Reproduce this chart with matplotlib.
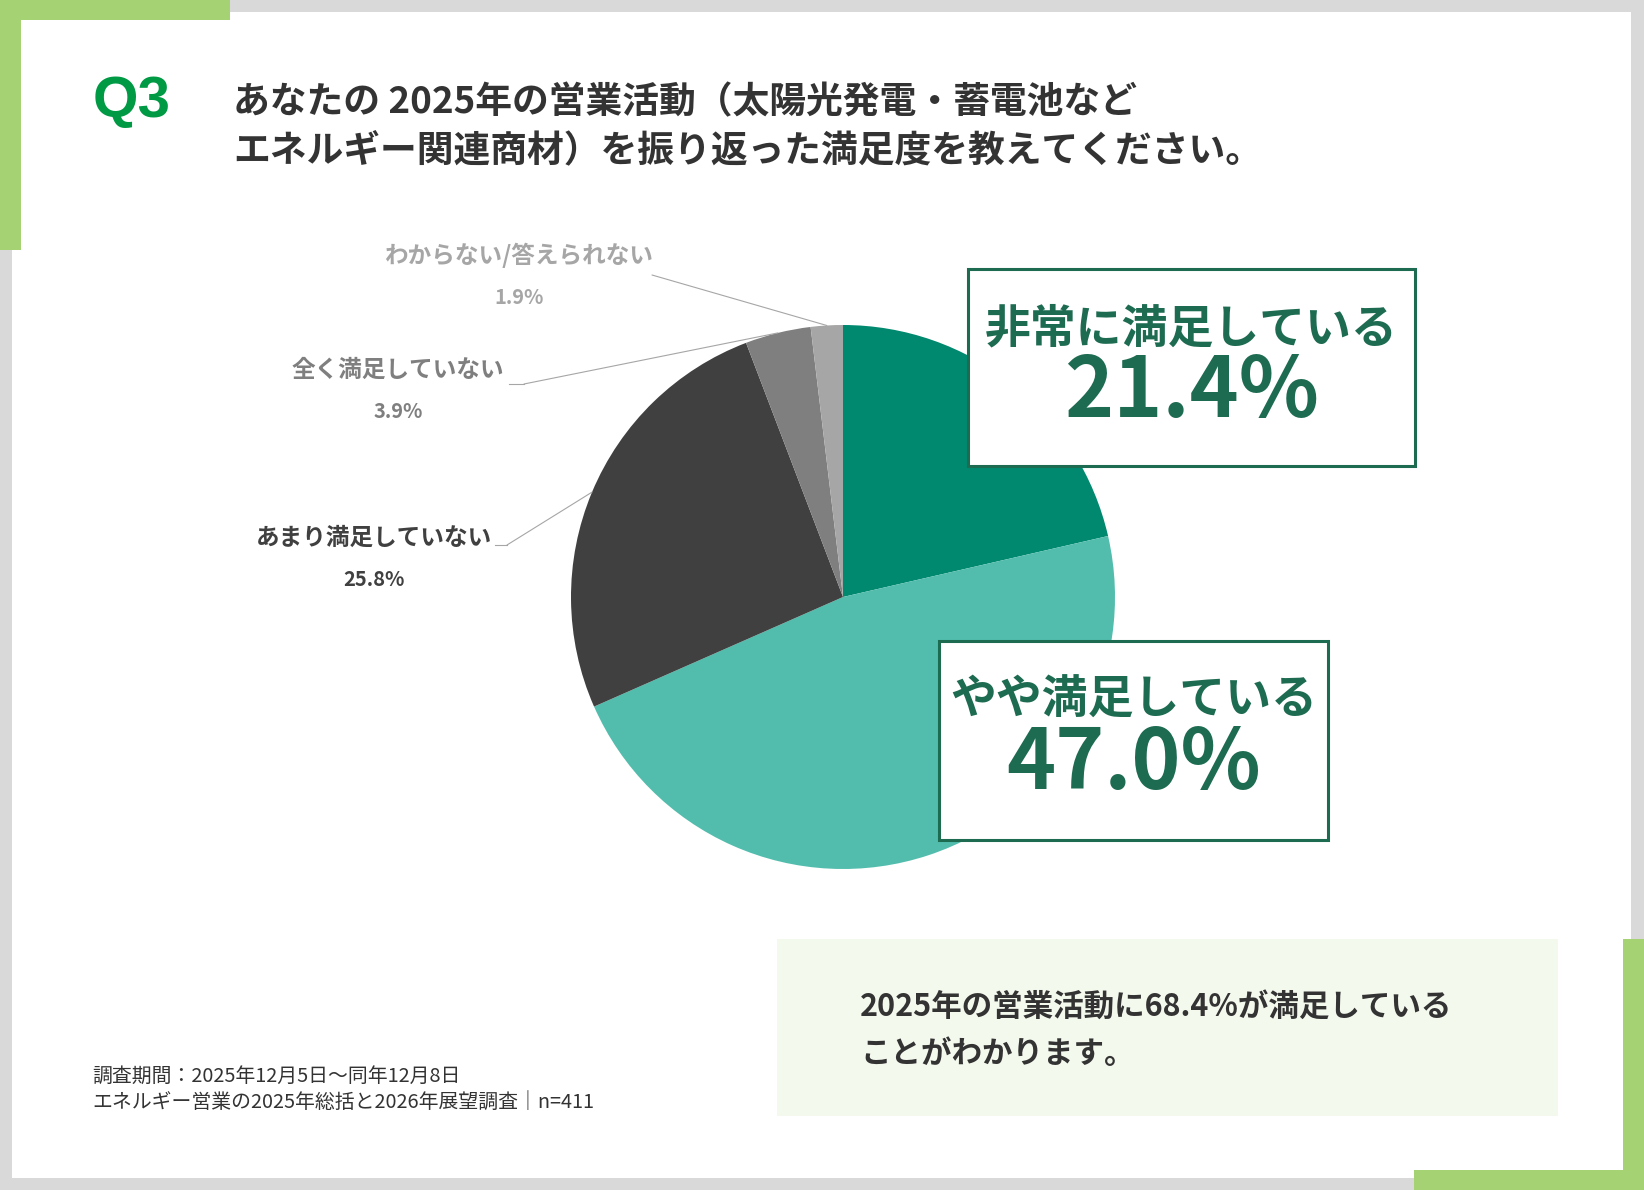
import numpy as np
import matplotlib.pyplot as plt
from matplotlib.patches import Rectangle

plt.rcParams['font.family'] = ['Noto Sans CJK JP', 'DejaVu Sans']

# data
labels = ["非常に満足している", "やや満足している", "あまり満足していない", "全く満足していない", "わからない/答えられない"]
values = [21.4, 47.0, 25.8, 3.9, 1.9]
colors = ["#00896F", "#52BDAD", "#404040", "#7F7F7F", "#A6A6A6"]
label_colors = ["#1D6B50", "#1D6B50", "#404040", "#7F7F7F", "#A6A6A6"]

title_lines = ["あなたの 2025年の営業活動（太陽光発電・蓄電池など",
               "エネルギー関連商材）を振り返った満足度を教えてください。"]
summary_lines = ["2025年の営業活動に68.4%が満足している", "ことがわかります。"]
footer_lines = ["調査期間：2025年12月5日～同年12月8日",
                "エネルギー営業の2025年総括と2026年展望調査｜n=411"]

W, H = 1644, 1190
fig = plt.figure(figsize=(W / 100, H / 100), dpi=100, facecolor="#D9D9D9")

# background layer in pixel coords (y down)
bg = fig.add_axes([0, 0, 1, 1])
bg.set_xlim(0, W)
bg.set_ylim(H, 0)
bg.axis("off")
green = "#A5D273"
bg.add_patch(Rectangle((12, 12), 1619, 1166, color="white", lw=0))
bg.add_patch(Rectangle((0, 0), 230, 20, color=green, lw=0))
bg.add_patch(Rectangle((0, 0), 21, 250, color=green, lw=0))
bg.add_patch(Rectangle((1623, 939), 21, 251, color=green, lw=0))
bg.add_patch(Rectangle((1414, 1170), 230, 20, color=green, lw=0))
bg.add_patch(Rectangle((777, 939), 781, 177, color="#F4F9EE", lw=0))

bg.text(93, 102, "Q3", fontsize=42, fontweight="bold", color="#009944",
        family="Liberation Sans", va="center", ha="left")
bg.text(233, 103, title_lines[0], fontsize=26.5, fontweight="bold", color="#333333", va="center")
bg.text(233, 152, title_lines[1], fontsize=26.5, fontweight="bold", color="#333333", va="center")

bg.text(860, 1007, summary_lines[0], fontsize=22, fontweight="bold", color="#333333", va="center")
bg.text(860, 1054, summary_lines[1], fontsize=22, fontweight="bold", color="#333333", va="center")

bg.text(92, 1076, footer_lines[0], fontsize=14.3, color="#333333", va="center")
bg.text(92, 1103, footer_lines[1], fontsize=14.3, color="#333333", va="center")

# pie
cx, cy, r = 843, 597, 272
pax = fig.add_axes([(cx - r) / W, (H - cy - r) / H, 2 * r / W, 2 * r / H])
wedges, _ = pax.pie(values, colors=colors, startangle=90, counterclock=False,
                    wedgeprops=dict(linewidth=0))
pax.set_xlim(-1, 1)
pax.set_ylim(-1, 1)
pax.axis("off")
for w in wedges:
    w.set_clip_on(False)

# overlay for callouts
ov = fig.add_axes([0, 0, 1, 1])
ov.set_xlim(0, W)
ov.set_ylim(H, 0)
ov.axis("off")
ov.patch.set_alpha(0)

boxes = [(968, 269, 447, 197), (939, 641, 389, 199)]
for i, (x, y, bw, bh) in enumerate(boxes):
    ov.add_patch(Rectangle((x, y), bw, bh, facecolor="white", edgecolor="#1D6B50", lw=2.2))
    ov.text(x + bw / 2, y + 60, labels[i], fontsize=33, fontweight="bold",
            color=label_colors[i], ha="center", va="center")
    ov.text(x + bw / 2, y + 124, f"{values[i]:.1f}%", fontsize=60, fontweight="bold",
            color=label_colors[i], ha="center", va="center")

# small outside labels with leader lines
label_pos = {4: (519, 255), 3: (398, 370), 2: (374, 538)}
line_start = {4: [(652, 275)], 3: [(509, 384), (524, 384)], 2: [(495, 545), (507, 545)]}
for i, (lx, ly) in label_pos.items():
    ov.text(lx, ly, labels[i], fontsize=17, fontweight="bold", color=label_colors[i],
            ha="center", va="center")
    ov.text(lx, ly + 42, f"{values[i]:.1f}%", fontsize=14.5, fontweight="bold",
            color=label_colors[i], ha="center", va="center")
    pts = line_start[i]
    if len(pts) > 1:
        ov.plot([p[0] for p in pts], [p[1] for p in pts], color="#A6A6A6", lw=0.8)
    w = wedges[i]
    ang = np.deg2rad((w.theta1 + w.theta2) / 2)
    ov.annotate("", xy=(np.cos(ang), np.sin(ang)), xycoords=pax.transData,
                xytext=pts[-1], textcoords="data",
                arrowprops=dict(arrowstyle="-", color="#A6A6A6", lw=0.8,
                                shrinkA=0, shrinkB=0))

fig.savefig("out.png", dpi=100, facecolor=fig.get_facecolor())
